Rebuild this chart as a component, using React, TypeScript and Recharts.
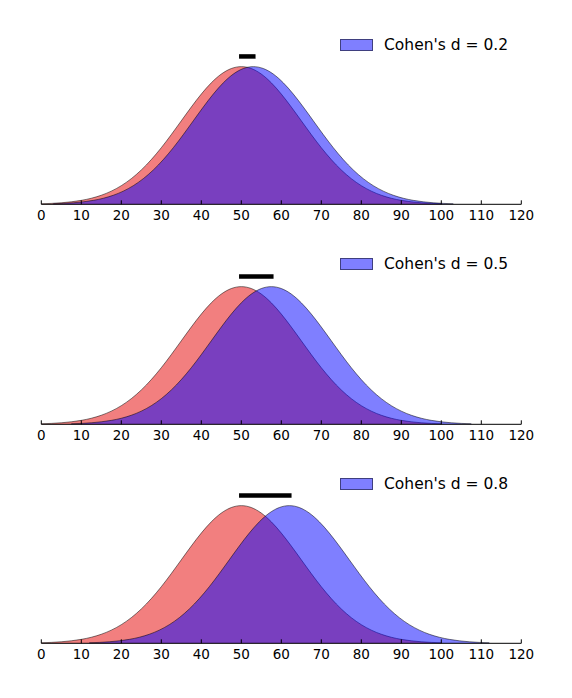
import React from 'react';
import { AreaChart, Area, XAxis, YAxis, ReferenceLine } from 'recharts';

// effect sizes shown in the three panels
const effectSizes = [0.2, 0.5, 0.8];
// mean of the blue group in each panel (red group always sits at 50)
const blueMeans = [53, 57.5, 62];
const redMean = 50;

// distance from the group mean, and relative curve height at that distance
const offsets = [
  -50, -47.5, -45, -42.5, -40, -37.5, -35, -32.5, -30, -27.5, -25, -22.5, -20, -17.5, -15, -12.5, -10, -7.5, -5, -2.5,
  0, 2.5, 5, 7.5, 10, 12.5, 15, 17.5, 20, 22.5, 25, 27.5, 30, 32.5, 35, 37.5, 40, 42.5, 45, 47.5, 50,
];
const heights = [
  0.0039, 0.0066, 0.0111, 0.0181, 0.0286, 0.0439, 0.0657, 0.0956, 0.1353, 0.1863, 0.2494, 0.3247, 0.4111, 0.5063,
  0.6065, 0.7066, 0.8007, 0.8825, 0.946, 0.9862, 1, 0.9862, 0.946, 0.8825, 0.8007, 0.7066, 0.6065, 0.5063, 0.4111,
  0.3247, 0.2494, 0.1863, 0.1353, 0.0956, 0.0657, 0.0439, 0.0286, 0.0181, 0.0111, 0.0066, 0.0039,
];

const xTicks = [0, 10, 20, 30, 40, 50, 60, 70, 80, 90, 100, 110, 120];

const FONT = '"DejaVu Sans", Verdana, sans-serif';
const BAR_LEVEL = 1.074;

function buildRows(blueMean: number) {
  const map = new Map<number, { x: number; red?: number; blue?: number }>();
  offsets.forEach((o, i) => {
    const xr = redMean + o;
    const r = map.get(xr) || { x: xr };
    r.red = heights[i];
    map.set(xr, r);
    const xb = blueMean + o;
    const b = map.get(xb) || { x: xb };
    b.blue = heights[i];
    map.set(xb, b);
  });
  return Array.from(map.values()).sort((a, b) => a.x - b.x);
}

const AxisTick = (props: any) => {
  const { x, y, payload } = props;
  return (
    <g>
      <line x1={x} x2={x} y1={y} y2={y - 4} stroke="#000" strokeWidth={1} />
      <text x={x} y={y + 16} textAnchor="middle" fontSize={13.5} fontFamily={FONT} fill="#000">
        {payload.value}
      </text>
    </g>
  );
};

function Panel({ d, mean }: { d: number; mean: number }) {
  const rows = buildRows(mean);
  return (
    <div style={{ position: 'relative', width: 572, height: 232 }}>
      <AreaChart width={572} height={232} data={rows} margin={{ top: 56.3, right: 50.7, bottom: 12, left: 41.3 }}>
        <XAxis
          type="number"
          dataKey="x"
          domain={[0, 120]}
          ticks={xTicks}
          interval={0}
          height={15.7}
          tickLine={false}
          tickSize={0}
          tickMargin={0}
          tick={<AxisTick />}
          axisLine={{ stroke: '#000', strokeWidth: 1 }}
        />
        <YAxis hide domain={[0, 1.075]} />
        <Area
          dataKey="red"
          type="monotone"
          connectNulls
          fill="#e60000"
          fillOpacity={0.5}
          stroke="#000"
          strokeOpacity={0.5}
          strokeWidth={1}
          isAnimationActive={false}
        />
        <Area
          dataKey="blue"
          type="monotone"
          connectNulls
          fill="#0000ff"
          fillOpacity={0.5}
          stroke="#000"
          strokeOpacity={0.5}
          strokeWidth={1}
          isAnimationActive={false}
        />
        <ReferenceLine
          segment={[{ x: redMean, y: BAR_LEVEL }, { x: mean, y: BAR_LEVEL }]}
          stroke="#000"
          strokeWidth={4.5}
          strokeLinecap="square"
          ifOverflow="visible"
        />
      </AreaChart>
      <div
        style={{
          position: 'absolute',
          left: 340,
          top: 35.5,
          display: 'flex',
          alignItems: 'center',
          fontFamily: FONT,
          fontSize: 15.5,
          color: '#000',
          whiteSpace: 'nowrap',
        }}
      >
        <span
          style={{
            display: 'inline-block',
            width: 31,
            height: 10,
            background: 'rgba(0,0,255,0.5)',
            border: '1px solid rgba(0,0,0,0.5)',
            marginRight: 11,
          }}
        />
        <span style={{ lineHeight: '18px' }}>Cohen's d = {d}</span>
      </div>
    </div>
  );
}

const panelTops = [0, 219.7, 439];

export default function App() {
  return (
    <div style={{ position: 'absolute', left: 0, top: 0, width: 572, height: 698, background: '#fff' }}>
      {effectSizes.map((d, i) => (
        <div key={d} style={{ position: 'absolute', left: 0, top: panelTops[i] }}>
          <Panel d={d} mean={blueMeans[i]} />
        </div>
      ))}
    </div>
  );
}
